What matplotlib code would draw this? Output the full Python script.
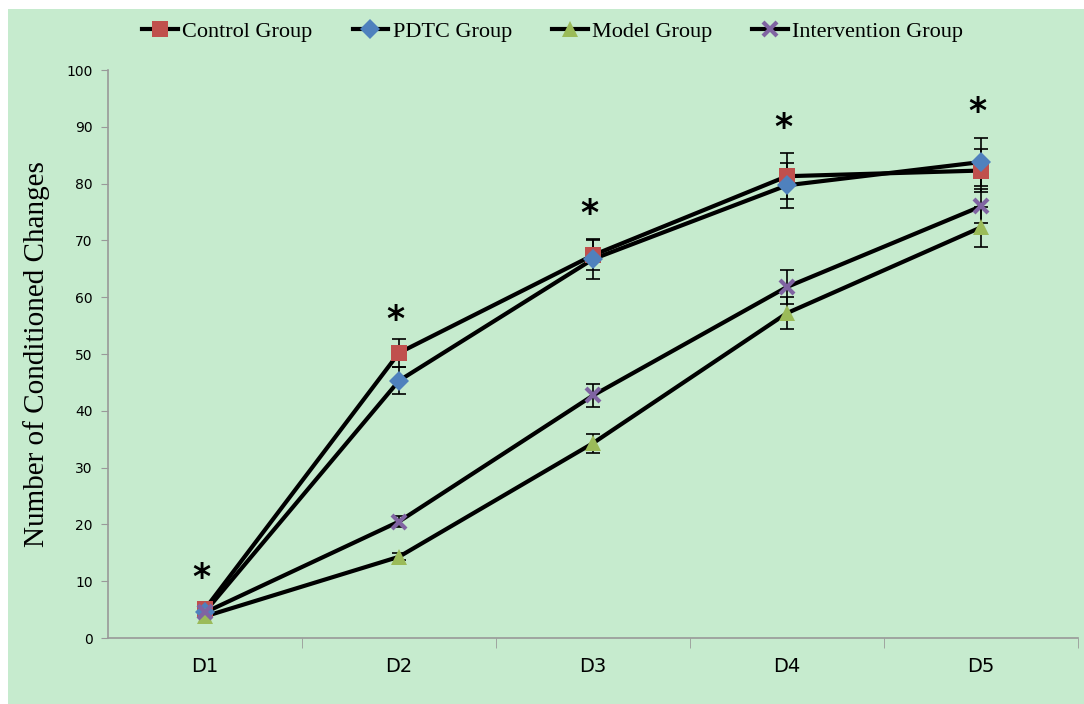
import matplotlib.pyplot as plt
from matplotlib.patches import Rectangle
from matplotlib.lines import Line2D

days = ['D1', 'D2', 'D3', 'D4', 'D5']
control = [5.1, 50.2, 67.4, 81.3, 82.3]
control_err = [0.3, 2.5, 2.6, 4.0, 3.8]
pdtc = [4.6, 45.3, 66.7, 79.7, 83.8]
pdtc_err = [0.3, 2.4, 3.5, 4.0, 4.2]
model = [3.8, 14.3, 34.3, 57.2, 72.3]
model_err = [0.2, 0.6, 1.7, 2.8, 3.5]
intervention = [4.5, 20.5, 42.7, 61.8, 76.0]
intervention_err = [0.3, 0.9, 2.0, 3.0, 3.0]
star_y = [10.6, 56.0, 74.6, 89.8, 92.6]

bg = '#c6ebce'
fig = plt.figure(figsize=(10.84, 7.04), dpi=100, facecolor='white')
fig.patches.append(Rectangle((8 / 1084, 0), 1, 1 - 9 / 704, transform=fig.transFigure,
                             facecolor=bg, edgecolor='none', zorder=-10))
ax = fig.add_axes([108 / 1084, 1 - 638 / 704, (1078 - 108) / 1084, (638 - 70) / 704])
ax.set_facecolor(bg)

x = list(range(1, 6))
series = [
    (control, control_err, 's', '#c0504d', 'Control Group', 11),
    (pdtc, pdtc_err, 'D', '#4f81bd', 'PDTC Group', 10),
    (model, model_err, '^', '#9bbb59', 'Model Group', 11),
    (intervention, intervention_err, 'x', '#8064a2', 'Intervention Group', 10),
]
handles = []
for vals, errs, mk, col, lab, ms in series:
    mew = 3 if mk == 'x' else 0
    ax.plot(x, vals, color='black', lw=3, zorder=3)
    ax.errorbar(x, vals, yerr=errs, fmt='none', ecolor='black', elinewidth=1.2,
                capsize=5, capthick=1.2, zorder=4)
    ax.plot(x, vals, ls='none', marker=mk, markersize=ms,
            markerfacecolor=col, markeredgecolor=col, markeredgewidth=mew, zorder=5)
    handles.append(Line2D([], [], color='black', lw=3, marker=mk, markersize=ms,
                          markerfacecolor=col, markeredgecolor=col, markeredgewidth=mew, label=lab))

for xi, yi in zip(x, star_y):
    ax.text(xi - 0.02, yi, '*', ha='center', va='center', fontsize=25, fontweight='bold',
            color='black')

ax.set_xlim(0.5, 5.5)
ax.set_ylim(0, 100)
ax.set_yticks(range(0, 101, 10))
ax.set_xticks(x)
ax.set_xticklabels(days, fontsize=14, family='DejaVu Sans')
ax.set_xticks([1.5, 2.5, 3.5, 4.5, 5.5], minor=True)
ax.tick_params(axis='x', which='major', length=0, pad=14)
ax.tick_params(axis='x', which='minor', length=7, color='#999999', direction='out')
ax.tick_params(axis='y', labelsize=10, length=5, color='#999999', direction='out', pad=6)
for s in ['top', 'right']:
    ax.spines[s].set_visible(False)
for s in ['left', 'bottom']:
    ax.spines[s].set_color('#999999')
    ax.spines[s].set_linewidth(1.2)

ax.set_ylabel('Number of Conditioned Changes', family='Liberation Serif', fontsize=21, labelpad=12)

fig.legend(handles=handles, loc='center', bbox_to_anchor=(0.51, 1 - 32 / 704), ncol=4, frameon=False,
           prop={'family': 'Liberation Serif', 'size': 16}, handlelength=1.6,
           handletextpad=0.2, columnspacing=1.8)

fig.savefig('out.png', dpi=100, facecolor='white')
